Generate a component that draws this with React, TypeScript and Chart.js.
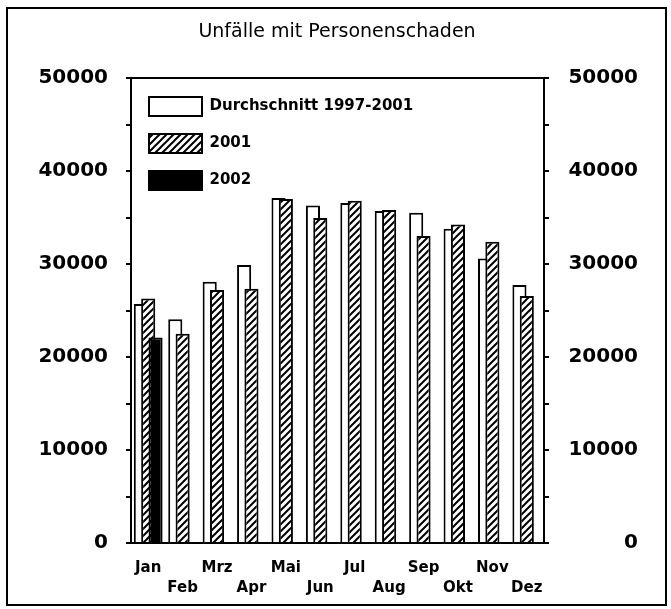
import React, { useEffect, useRef } from 'react';
import { Chart, registerables } from 'chart.js';

Chart.register(...registerables);

const months = ['Jan', 'Feb', 'Mrz', 'Apr', 'Mai', 'Jun', 'Jul', 'Aug', 'Sep', 'Okt', 'Nov', 'Dez'];
const avg9701 = [25700, 24050, 28100, 29900, 37100, 36300, 36550, 35700, 35500, 33800, 30600, 27750];
const val2001 = [26300, 22500, 27200, 27350, 37000, 34950, 36800, 35800, 33000, 34250, 32400, 26550];
const val2002 = [22100, null, null, null, null, null, null, null, null, null, null, null];
const seriesNames = ['Durchschnitt 1997-2001', '2001', '2002'];
const titleText = 'Unfälle mit Personenschaden';
const yMin = 0;
const yMax = 50000;
const yStep = 5000;
const yLabelStep = 10000;

const FONT = "'DejaVu Sans', sans-serif";

function makeHatch(ctx: CanvasRenderingContext2D): CanvasPattern | string {
  const s = 7;
  const c = document.createElement('canvas');
  c.width = s;
  c.height = s;
  const g = c.getContext('2d');
  if (!g) return '#fff';
  g.fillStyle = '#fff';
  g.fillRect(0, 0, s, s);
  g.strokeStyle = '#000';
  g.lineWidth = 2;
  g.beginPath();
  g.moveTo(-2, s + 2);
  g.lineTo(s + 2, -2);
  g.moveTo(-2, 2);
  g.lineTo(2, -2);
  g.moveTo(s - 2, s + 2);
  g.lineTo(s + 2, s - 2);
  g.stroke();
  return ctx.createPattern(c, 'repeat') || '#fff';
}

export default function App() {
  const ref = useRef<HTMLCanvasElement>(null);

  useEffect(() => {
    const canvas = ref.current;
    if (!canvas) return;
    const ctx = canvas.getContext('2d');
    if (!ctx) return;
    const hatch = makeHatch(ctx);

    const drawOrder = {
      id: 'drawOrder',
      beforeDatasetsDraw(chart: any) {
        const area = chart.chartArea;
        const c = chart.ctx;
        const metas = chart.getSortedVisibleDatasetMetas();
        c.save();
        c.beginPath();
        c.rect(area.left, area.top - 2, area.right - area.left, area.bottom - area.top + 2);
        c.clip();
        for (const m of metas) m.controller.draw();
        c.restore();
        return false;
      },
    };

    const yTick = (v: any) => (Number(v) % yLabelStep === 0 ? String(v) : '');
    const yGrid = {
      drawOnChartArea: false,
      drawTicks: true,
      tickLength: 5,
      tickWidth: 2,
      tickColor: '#000',
      color: '#000',
      lineWidth: 2,
    };
    const yFont = { family: FONT, size: 20, weight: 'bold' as const };

    const chart = new Chart(ctx, {
      type: 'bar',
      data: {
        labels: months,
        datasets: [
          { label: seriesNames[0], data: avg9701, backgroundColor: '#fff', borderColor: '#000', borderWidth: 2, xAxisID: 'x', yAxisID: 'y' },
          { label: seriesNames[1], data: val2001, backgroundColor: hatch as any, borderColor: '#000', borderWidth: 2, xAxisID: 'x', yAxisID: 'y' },
          { label: seriesNames[2], data: val2002 as any, backgroundColor: '#000', borderColor: '#000', borderWidth: 2, xAxisID: 'x', yAxisID: 'y' },
        ],
      },
      options: {
        responsive: false,
        animation: false,
        devicePixelRatio: 1,
        layout: { padding: { left: 36, right: 33, top: 0, bottom: 0 } },
        datasets: { bar: { categoryPercentage: 0.64, barPercentage: 1.92 } } as any,
        plugins: {
          tooltip: { enabled: false },
          title: {
            display: true,
            text: titleText,
            color: '#000',
            font: { family: FONT, size: 19, weight: 'normal', lineHeight: 1.2 },
            padding: { top: 21, bottom: 34.2 },
          },
          legend: {
            position: 'chartArea' as any,
            align: 'start',
            title: { display: true, text: '', font: { size: 10, lineHeight: 1 }, padding: { top: 69, bottom: 0 } },
            labels: {
              boxWidth: 53,
              boxHeight: 19,
              padding: 18,
              color: '#000',
              font: { family: FONT, size: 15, weight: 'bold' },
            },
          },
        },
        scales: {
          x: {
            type: 'category',
            position: 'bottom',
            offset: true,
            grid: { display: false, drawTicks: false },
            border: { display: true, color: '#000', width: 2 },
            ticks: {
              autoSkip: false,
              maxRotation: 0,
              minRotation: 0,
              padding: 15,
              color: '#000',
              font: { family: FONT, size: 15, weight: 'bold', lineHeight: 1.33 },
              callback: (_v: any, i: number) => (i % 2 === 0 ? [months[i], ''] : ['', months[i]]),
            },
            afterFit: (s: any) => {
              s.height = 66;
            },
          },
          xTop: {
            type: 'category',
            position: 'top',
            grid: { display: false, drawTicks: false },
            border: { display: true, color: '#000', width: 2 },
            ticks: { display: false },
            afterFit: (s: any) => {
              s.height = 0;
            },
          },
          y: {
            position: 'left',
            min: yMin,
            max: yMax,
            ticks: { stepSize: yStep, padding: 18, color: '#000', font: yFont, callback: yTick },
            grid: yGrid,
            border: { display: true, color: '#000', width: 2 },
            afterFit: (s: any) => {
              s.width = 95;
            },
          },
          y2: {
            position: 'right',
            min: yMin,
            max: yMax,
            ticks: { stepSize: yStep, padding: 18, color: '#000', font: yFont, callback: yTick, crossAlign: 'far' },
            grid: yGrid,
            border: { display: true, color: '#000', width: 2 },
            afterFit: (s: any) => {
              s.width = 94;
            },
          },
        } as any,
      },
      plugins: [drawOrder as any],
    });

    return () => chart.destroy();
  }, []);

  return (
    <div style={{ position: 'absolute', left: 0, top: 0, width: 671, height: 609, background: '#fff' }}>
      <canvas ref={ref} width={671} height={609} style={{ position: 'absolute', left: 0, top: 0, width: 671, height: 609 }} />
      <div
        style={{
          position: 'absolute',
          left: 6,
          top: 7,
          width: 661,
          height: 599,
          boxSizing: 'border-box',
          border: '2px solid #000',
          pointerEvents: 'none',
        }}
      />
    </div>
  );
}
